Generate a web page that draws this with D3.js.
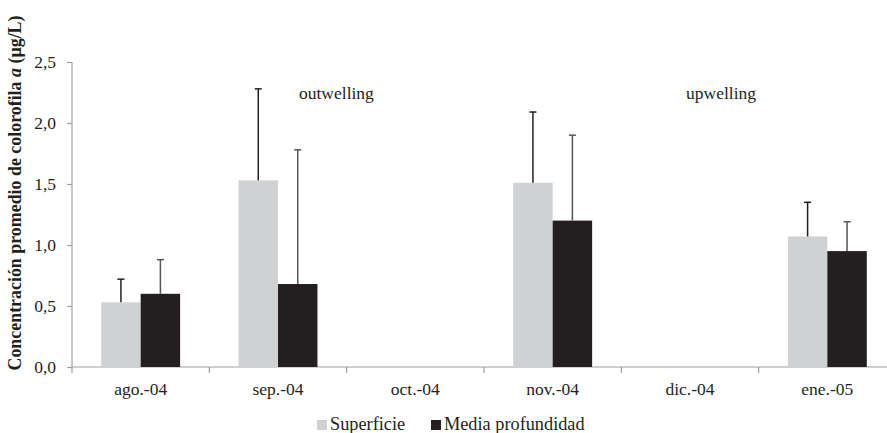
<!DOCTYPE html>
<html>
<head>
<meta charset="utf-8">
<script src="https://cdn.jsdelivr.net/npm/d3@7"></script>
<style>
  html, body { margin: 0; padding: 0; background: #fff; }
  svg { display: block; }
  svg text { font-family: "Liberation Serif", "DejaVu Serif", serif; }
</style>
</head>
<body>
<svg id="chart" width="887" height="433"></svg>
<script>
// Monthly mean chlorophyll-a with standard deviation, surface vs. mid-depth
const categories = ["ago.-04", "sep.-04", "oct.-04", "nov.-04", "dic.-04", "ene.-05"];
const seriesNames = ["Superficie", "Media profundidad"];
const superficie = [0.53, 1.53, null, 1.51, null, 1.07];
const superficieErr = [0.19, 0.75, null, 0.58, null, 0.28];
const mediaProf = [0.60, 0.68, null, 1.20, null, 0.95];
const mediaProfErr = [0.28, 1.10, null, 0.70, null, 0.24];
const yTicks = [0, 0.5, 1.0, 1.5, 2.0, 2.5];
const colors = ["#d0d1d3", "#231f20"];

const svg = d3.select("#chart");
const plotLeft = 72, plotRight = 896, plotTop = 62, plotBottom = 367;
const fontSize = "17.5px";

const x = d3.scaleBand().domain(categories).range([plotLeft, plotRight]).paddingInner(0).paddingOuter(0);
const xInner = d3.scaleBand().domain(seriesNames).range([0, x.bandwidth()]).paddingInner(0).paddingOuter(0.74);
const y = d3.scaleLinear().domain([0, 2.5]).range([plotBottom, plotTop]);

const fmt = d => d3.format(".1f")(d).replace(".", ",");

// y axis
const yAxis = svg.append("g").attr("transform", `translate(${plotLeft},0)`)
  .call(d3.axisLeft(y).tickValues(yTicks).tickFormat(fmt).tickSize(5).tickPadding(11));
yAxis.attr("font-family", null).attr("font-size", null);
yAxis.select(".domain").attr("stroke", "#a0a0a0").attr("stroke-width", 1.2).attr("d", `M0,${plotTop}V${plotBottom}`);
yAxis.selectAll(".tick line").attr("stroke", "#a0a0a0").attr("stroke-width", 1.2);
yAxis.selectAll(".tick text").attr("fill", "#231f20").style("font-size", fontSize);

// x axis with tick marks at category boundaries
const xAxisG = svg.append("g").attr("transform", `translate(0,${plotBottom})`);
xAxisG.append("line").attr("x1", plotLeft).attr("x2", plotRight).attr("y1", 0).attr("y2", 0)
  .attr("stroke", "#a0a0a0").attr("stroke-width", 1.2);
const boundaries = categories.map(c => x(c)).concat([x(categories[categories.length - 1]) + x.bandwidth()]);
xAxisG.selectAll("line.bt").data(boundaries).join("line").attr("class", "bt")
  .attr("x1", d => d).attr("x2", d => d).attr("y1", 0).attr("y2", 6)
  .attr("stroke", "#a0a0a0").attr("stroke-width", 1.2);
xAxisG.selectAll("text").data(categories).join("text")
  .attr("x", d => x(d) + x.bandwidth() / 2).attr("y", 28)
  .attr("text-anchor", "middle").attr("fill", "#231f20").style("font-size", fontSize)
  .text(d => d);

// bars and error bars
const series = [
  { name: seriesNames[0], values: superficie, errs: superficieErr, color: colors[0], errColor: "#231f20" },
  { name: seriesNames[1], values: mediaProf, errs: mediaProfErr, color: colors[1], errColor: "#555" }
];
series.forEach(s => {
  const pts = categories.map((c, i) => ({ c, v: s.values[i], e: s.errs[i] })).filter(p => p.v != null);
  const g = svg.append("g");
  g.selectAll("rect").data(pts).join("rect")
    .attr("x", p => x(p.c) + xInner(s.name))
    .attr("width", xInner.bandwidth())
    .attr("y", p => y(p.v))
    .attr("height", p => y(0) - y(p.v))
    .attr("fill", s.color);
  const eg = g.selectAll("g.err").data(pts).join("g").attr("class", "err");
  const cx = p => x(p.c) + xInner(s.name) + xInner.bandwidth() / 2;
  eg.append("line").attr("x1", cx).attr("x2", cx)
    .attr("y1", p => y(p.v)).attr("y2", p => y(p.v + p.e))
    .attr("stroke", s.errColor).attr("stroke-width", 1.5);
  eg.append("line").attr("x1", p => cx(p) - 3.5).attr("x2", p => cx(p) + 3.5)
    .attr("y1", p => y(p.v + p.e)).attr("y2", p => y(p.v + p.e))
    .attr("stroke", s.errColor).attr("stroke-width", 1.5);
});

// annotations
svg.append("text").attr("x", 299).attr("y", 99).attr("fill", "#231f20")
  .style("font-size", fontSize).text("outwelling");
svg.append("text").attr("x", 686).attr("y", 99).attr("fill", "#231f20")
  .style("font-size", fontSize).text("upwelling");

// y axis title
svg.append("text")
  .attr("transform", `translate(21,193) rotate(-90)`)
  .attr("text-anchor", "middle").attr("fill", "#231f20")
  .style("font-size", "17.9px").style("font-weight", "bold")
  .html('Concentración promedio de colorofila <tspan font-style="italic">a</tspan> (µg/L)');

// legend
const legend = svg.append("g").attr("transform", "translate(317,430)");
const legendItems = [
  { name: seriesNames[0], color: colors[0], x: 0 },
  { name: seriesNames[1], color: colors[1], x: 114 }
];
legendItems.forEach(it => {
  legend.append("rect").attr("x", it.x).attr("y", -10).attr("width", 10).attr("height", 10).attr("fill", it.color);
  legend.append("text").attr("x", it.x + 13).attr("y", 0).attr("fill", "#231f20")
    .style("font-size", "18.3px").text(it.name);
});
</script>
</body>
</html>
